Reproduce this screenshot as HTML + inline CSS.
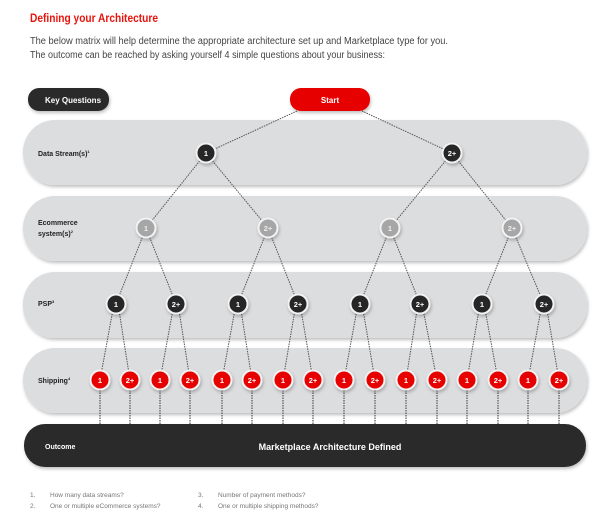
<!DOCTYPE html>
<html><head><meta charset="utf-8"><style>
html,body{margin:0;padding:0;background:#fff;width:602px;height:519px;overflow:hidden}
svg{display:block;font-family:"Liberation Sans",sans-serif}
</style></head><body>
<svg width="602" height="519" viewBox="0 0 602 519" xmlns="http://www.w3.org/2000/svg">
<defs>
<filter id="sh" x="-20%" y="-20%" width="140%" height="160%"><feDropShadow dx="1" dy="2" stdDeviation="1.5" flood-color="#000" flood-opacity="0.25"/></filter>
</defs>
<text x="30" y="22" font-size="12" font-weight="bold" fill="#e8140c" textLength="128" lengthAdjust="spacingAndGlyphs">Defining your Architecture</text>
<text x="30" y="44" font-size="10" fill="#444" textLength="418" lengthAdjust="spacingAndGlyphs">The below matrix will help determine the appropriate architecture set up and Marketplace type for you.</text>
<text x="30" y="58" font-size="10" fill="#444" textLength="355" lengthAdjust="spacingAndGlyphs">The outcome can be reached by asking yourself 4 simple questions about your business:</text>

<rect x="23" y="120" width="564" height="65" rx="32" fill="#dcdddf" filter="url(#sh)"/>
<rect x="23" y="196" width="564" height="65" rx="32" fill="#dcdddf" filter="url(#sh)"/>
<rect x="23" y="272" width="564" height="66" rx="32" fill="#dcdddf" filter="url(#sh)"/>
<rect x="23" y="348" width="564" height="65" rx="32" fill="#dcdddf" filter="url(#sh)"/>
<rect x="24" y="424" width="562" height="43" rx="21" fill="#2b2b2b" filter="url(#sh)"/>

<rect x="28" y="88" width="81" height="23" rx="11" fill="#2b2b2b" filter="url(#sh)"/>
<text x="45" y="103" font-size="8" font-weight="bold" fill="#fff">Key Questions</text>
<rect x="290" y="88" width="80" height="23" rx="11" fill="#e60000" filter="url(#sh)"/>
<text x="330" y="103" font-size="8" font-weight="bold" fill="#fff" text-anchor="middle">Start</text>

<g stroke="#555" stroke-width="1" stroke-dasharray="1.5,1" fill="none">
<line x1="297" y1="111" x2="206" y2="153"/><line x1="362" y1="111" x2="452" y2="153"/>
<line x1="206" y1="153" x2="146" y2="228"/><line x1="206" y1="153" x2="268" y2="228"/>
<line x1="452" y1="153" x2="390" y2="228"/><line x1="452" y1="153" x2="512" y2="228"/>
<line x1="146" y1="228" x2="116" y2="304"/><line x1="146" y1="228" x2="176" y2="304"/>
<line x1="268" y1="228" x2="238" y2="304"/><line x1="268" y1="228" x2="298" y2="304"/>
<line x1="390" y1="228" x2="360" y2="304"/><line x1="390" y1="228" x2="420" y2="304"/>
<line x1="512" y1="228" x2="482" y2="304"/><line x1="512" y1="228" x2="544" y2="304"/>
<line x1="114" y1="304" x2="100" y2="380"/><line x1="118" y1="304" x2="130" y2="380"/>
<line x1="174" y1="304" x2="160" y2="380"/><line x1="178" y1="304" x2="190" y2="380"/>
<line x1="236" y1="304" x2="222" y2="380"/><line x1="240" y1="304" x2="252" y2="380"/>
<line x1="296" y1="304" x2="283" y2="380"/><line x1="300" y1="304" x2="313" y2="380"/>
<line x1="358" y1="304" x2="344" y2="380"/><line x1="362" y1="304" x2="375" y2="380"/>
<line x1="418" y1="304" x2="406" y2="380"/><line x1="422" y1="304" x2="437" y2="380"/>
<line x1="480" y1="304" x2="467" y2="380"/><line x1="484" y1="304" x2="498" y2="380"/>
<line x1="542" y1="304" x2="528" y2="380"/><line x1="546" y1="304" x2="559" y2="380"/>
<g stroke-width="1.2">
<line x1="100" y1="380" x2="100" y2="424"/><line x1="130" y1="380" x2="130" y2="424"/>
<line x1="160" y1="380" x2="160" y2="424"/><line x1="190" y1="380" x2="190" y2="424"/>
<line x1="222" y1="380" x2="222" y2="424"/><line x1="252" y1="380" x2="252" y2="424"/>
<line x1="283" y1="380" x2="283" y2="424"/><line x1="313" y1="380" x2="313" y2="424"/>
<line x1="344" y1="380" x2="344" y2="424"/><line x1="375" y1="380" x2="375" y2="424"/>
<line x1="406" y1="380" x2="406" y2="424"/><line x1="437" y1="380" x2="437" y2="424"/>
<line x1="467" y1="380" x2="467" y2="424"/><line x1="498" y1="380" x2="498" y2="424"/>
<line x1="528" y1="380" x2="528" y2="424"/><line x1="559" y1="380" x2="559" y2="424"/>
</g></g>

<g font-size="7" font-weight="bold" fill="#222">
<text x="38" y="156">Data Stream(s)<tspan font-size="4" dy="-3">1</tspan></text>
<text x="38" y="225">Ecommerce</text>
<text x="38" y="236">system(s)<tspan font-size="4" dy="-3">2</tspan></text>
<text x="38" y="306">PSP<tspan font-size="4" dy="-3">3</tspan></text>
<text x="38" y="383">Shipping<tspan font-size="4" dy="-3">4</tspan></text>
</g>
<text x="45" y="449" font-size="7" font-weight="bold" fill="#fff">Outcome</text>
<text x="330" y="450" font-size="9" font-weight="bold" fill="#fff" text-anchor="middle">Marketplace Architecture Defined</text>

<g stroke="#f2f2f2" stroke-width="2" filter="url(#sh)" font-size="8" font-weight="bold">
<circle cx="206" cy="153" r="9.5" fill="#262626"/><circle cx="452" cy="153" r="9.5" fill="#262626"/>
<circle cx="146" cy="228" r="9.5" fill="#a6a6a6"/><circle cx="268" cy="228" r="9.5" fill="#a6a6a6"/>
<circle cx="390" cy="228" r="9.5" fill="#a6a6a6"/><circle cx="512" cy="228" r="9.5" fill="#a6a6a6"/>
<circle cx="116" cy="304" r="9.5" fill="#262626"/><circle cx="176" cy="304" r="9.5" fill="#262626"/>
<circle cx="238" cy="304" r="9.5" fill="#262626"/><circle cx="298" cy="304" r="9.5" fill="#262626"/>
<circle cx="360" cy="304" r="9.5" fill="#262626"/><circle cx="420" cy="304" r="9.5" fill="#262626"/>
<circle cx="482" cy="304" r="9.5" fill="#262626"/><circle cx="544" cy="304" r="9.5" fill="#262626"/>
<g fill="#e60000">
<circle cx="100" cy="380" r="9.5"/><circle cx="130" cy="380" r="9.5"/><circle cx="160" cy="380" r="9.5"/><circle cx="190" cy="380" r="9.5"/>
<circle cx="222" cy="380" r="9.5"/><circle cx="252" cy="380" r="9.5"/><circle cx="283" cy="380" r="9.5"/><circle cx="313" cy="380" r="9.5"/>
<circle cx="344" cy="380" r="9.5"/><circle cx="375" cy="380" r="9.5"/><circle cx="406" cy="380" r="9.5"/><circle cx="437" cy="380" r="9.5"/>
<circle cx="467" cy="380" r="9.5"/><circle cx="498" cy="380" r="9.5"/><circle cx="528" cy="380" r="9.5"/><circle cx="559" cy="380" r="9.5"/>
</g></g>
<g font-size="7.5" font-weight="bold" text-anchor="middle" fill="#fff">
<text x="206" y="156">1</text><text x="452" y="156">2+</text>
<g fill="#eee"><text x="146" y="231">1</text><text x="268" y="231">2+</text><text x="390" y="231">1</text><text x="512" y="231">2+</text></g>
<text x="116" y="307">1</text><text x="176" y="307">2+</text><text x="238" y="307">1</text><text x="298" y="307">2+</text>
<text x="360" y="307">1</text><text x="420" y="307">2+</text><text x="482" y="307">1</text><text x="544" y="307">2+</text>
<text x="100" y="383">1</text><text x="130" y="383">2+</text><text x="160" y="383">1</text><text x="190" y="383">2+</text>
<text x="222" y="383">1</text><text x="252" y="383">2+</text><text x="283" y="383">1</text><text x="313" y="383">2+</text>
<text x="344" y="383">1</text><text x="375" y="383">2+</text><text x="406" y="383">1</text><text x="437" y="383">2+</text>
<text x="467" y="383">1</text><text x="498" y="383">2+</text><text x="528" y="383">1</text><text x="559" y="383">2+</text>
</g>

<g font-size="6.5" fill="#777">
<text x="30" y="497">1.</text><text x="50" y="497">How many data streams?</text>
<text x="30" y="508">2.</text><text x="50" y="508">One or multiple eCommerce systems?</text>
<text x="198" y="497">3.</text><text x="218" y="497">Number of payment methods?</text>
<text x="198" y="508">4.</text><text x="218" y="508">One or multiple shipping methods?</text>
</g>
</svg>
</body></html>
